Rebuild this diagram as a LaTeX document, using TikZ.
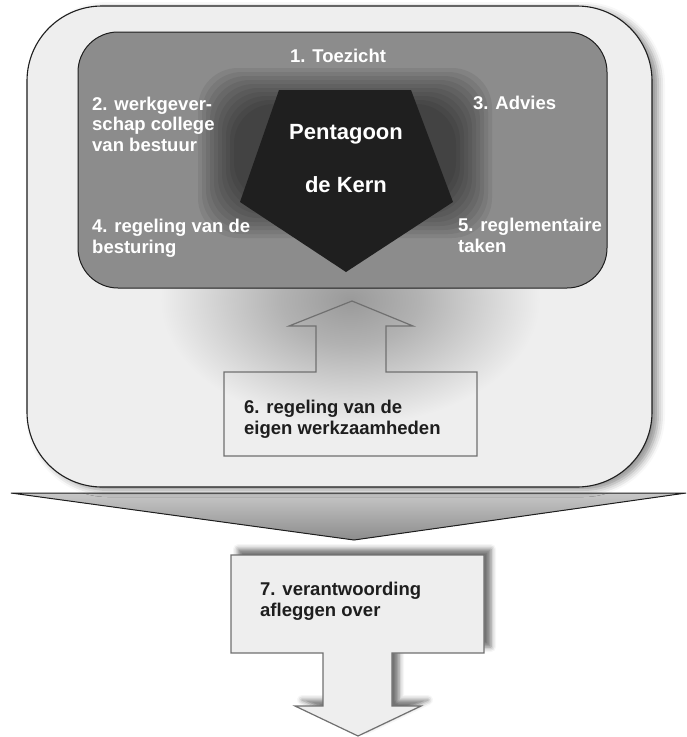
\documentclass[tikz,border=0pt]{standalone}
\usepackage{fontspec}
\setmainfont{Liberation Sans}
\usetikzlibrary{shadows.blur}
\definecolor{panel}{HTML}{EEEEEE}
\definecolor{core}{HTML}{8C8C8C}
\definecolor{edge}{HTML}{707070}
\definecolor{ink}{HTML}{1E1E1E}
\definecolor{cloudA}{HTML}{9A9A9A}
\definecolor{cloudB}{HTML}{B2B2B2}
\pgfdeclareradialshading{cloud}{\pgfpoint{0bp}{0bp}}{color(0bp)=(cloudA); color(9bp)=(cloudB); color(25bp)=(panel); color(50bp)=(panel)}
\begin{document}
\begin{tikzpicture}[x=1pt,y=-1pt,
  lbl/.style={text=white, font=\fontsize{18.5}{20.5}\selectfont\bfseries, align=left, inner sep=0pt, anchor=base west},
  dark/.style={lbl, text=ink},
  big/.style={text=white, font=\fontsize{22}{24}\selectfont\bfseries, inner sep=0pt, anchor=base},
  block/.style={draw=edge, line width=1.2pt}]
\useasboundingbox (0,0) rectangle (687,737);

\filldraw[draw=ink, line width=1pt, top color=black!22, bottom color=black!45] (11,493) -- (686,493) -- (354,540) -- cycle;

\filldraw[fill=panel, draw=ink, line width=1.1pt, rounded corners=75pt,
  blur shadow={shadow xshift=6pt, shadow yshift=-3pt, shadow blur radius=7pt, shadow opacity=45}]
  (27,6) rectangle (652,487);
\begin{scope}
\clip[rounded corners=75pt] (27,6) rectangle (652,487);
\shade[shading=cloud] (350,300) ellipse [x radius=190, y radius=125];
\end{scope}

\filldraw[fill=core, draw=ink, line width=1pt, rounded corners=40pt] (78,32) rectangle (607,288);
\begin{scope}
\clip[rounded corners=40pt] (78,32) rectangle (607,288);
\foreach \i in {0,...,9}
  \fill[black, opacity=0.065, rounded corners=40pt] (198+4*\i,68+4*\i) rectangle (492-4*\i,238-4*\i);
\end{scope}
\fill[black!88] (279,90) -- (411,90) -- (453,202) -- (346,272) -- (240,202) -- cycle;

\node (penta) at (346,139) [big] {Pentagoon};
\node (kern) at (346,192) [big] {de Kern};

\node (toezicht) at (338,62) [lbl, anchor=base] {1. Toezicht};
\node (werkgever) at (92,151) [lbl] {2. werkgever-\\schap college\\van bestuur};
\node (advies) at (473,109) [lbl] {3. Advies};
\node (besturing) at (92,253) [lbl] {4. regeling van de\\besturing};
\node (taken) at (458,252) [lbl] {5. reglementaire\\taken};

\draw[block] (224,456) -- (224,372) -- (316,372) -- (316,326) -- (289,326) -- (352,301) -- (413,326) -- (386,326) -- (386,372) -- (477,372) -- (477,456) -- cycle;
\node (eigen) at (244,434) [dark] {6. regeling van de\\eigen werkzaamheden};

\filldraw[block, fill=panel,
  blur shadow={shadow xshift=7pt, shadow yshift=6pt, shadow blur radius=5pt, shadow opacity=55}]
  (231,555) -- (484,555) -- (484,653) -- (392,653) -- (392,706) -- (421,706) -- (358,736) -- (295,706) -- (323,706) -- (323,653) -- (231,653) -- cycle;
\node (verantw) at (260,616) [dark] {7. verantwoording\\afleggen over};
\end{tikzpicture}
\end{document}
